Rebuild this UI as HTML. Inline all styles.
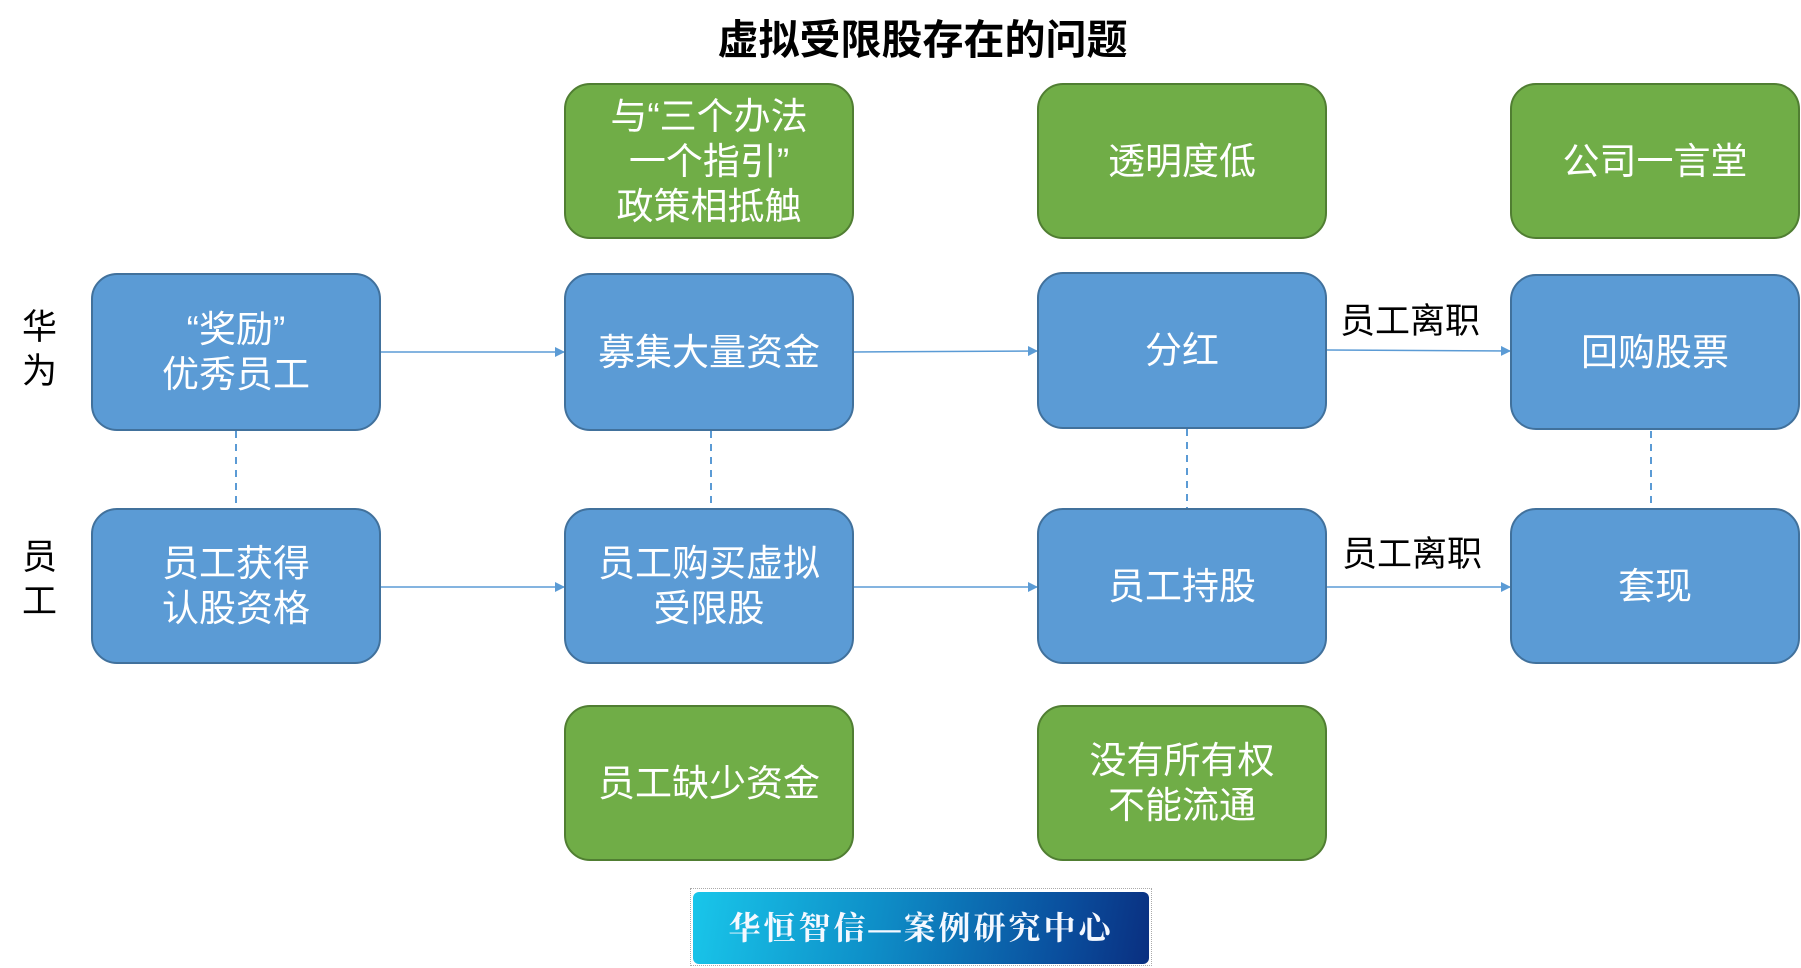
<!DOCTYPE html>
<html><head><meta charset="utf-8"><style>
body{margin:0;width:1801px;height:968px;background:#fff;position:relative;overflow:hidden;font-family:"Liberation Sans","Noto Sans CJK SC",sans-serif}
.b{position:absolute;box-sizing:border-box;border-radius:26px;display:flex;align-items:center;justify-content:center;text-align:center;color:#fff;font-size:37px;line-height:45px}
.bl{background:#5b9bd5;border:2px solid #41719c}
.g{background:#70ad47;border:2px solid #507e32}
.t{position:absolute;color:#000;font-size:35px;line-height:40px}
</style></head><body>
<div class="t" style="left:0;width:1845px;top:16px;text-align:center;font-weight:bold;font-size:41px;line-height:48px">虚拟受限股存在的问题</div>
<svg width="1801" height="968" style="position:absolute;left:0;top:0">
<defs><marker id="a" markerWidth="10" markerHeight="10" refX="9" refY="5" orient="auto" markerUnits="userSpaceOnUse"><path d="M0,0L10,5L0,10z" fill="#5b9bd5"/></marker></defs>
<g stroke="#5b9bd5" stroke-width="1.5" marker-end="url(#a)">
<line x1="380" y1="352" x2="564" y2="352"/><line x1="853" y1="352" x2="1037" y2="351"/><line x1="1327" y1="350" x2="1510" y2="351"/>
<line x1="380" y1="587" x2="564" y2="587"/><line x1="853" y1="587" x2="1037" y2="587"/><line x1="1327" y1="587" x2="1510" y2="587"/>
</g>
<g stroke="#5b9bd5" stroke-width="2" stroke-dasharray="7,6">
<line x1="236" y1="431" x2="236" y2="508"/><line x1="711" y1="431" x2="711" y2="508"/><line x1="1187" y1="429" x2="1187" y2="508"/><line x1="1651" y1="431" x2="1651" y2="508"/>
</g></svg>
<div class="t" style="left:22px;top:306px;width:40px;line-height:44px">华<br>为</div>
<div class="t" style="left:22px;top:536px;width:40px;line-height:44px">员<br>工</div>
<div class="t" style="left:1340px;top:302px">员工离职</div>
<div class="t" style="left:1342px;top:535px">员工离职</div>
<div class="b g" style="left:564px;top:83px;width:290px;height:156px">与“三个办法<br>一个指引”<br>政策相抵触</div>
<div class="b g" style="left:1037px;top:83px;width:290px;height:156px">透明度低</div>
<div class="b g" style="left:1510px;top:83px;width:290px;height:156px">公司一言堂</div>
<div class="b bl" style="left:91px;top:273px;width:290px;height:158px">“奖励”<br>优秀员工</div>
<div class="b bl" style="left:564px;top:273px;width:290px;height:158px">募集大量资金</div>
<div class="b bl" style="left:1037px;top:272px;width:290px;height:157px">分红</div>
<div class="b bl" style="left:1510px;top:274px;width:290px;height:156px">回购股票</div>
<div class="b bl" style="left:91px;top:508px;width:290px;height:156px">员工获得<br>认股资格</div>
<div class="b bl" style="left:564px;top:508px;width:290px;height:156px">员工购买虚拟<br>受限股</div>
<div class="b bl" style="left:1037px;top:508px;width:290px;height:156px">员工持股</div>
<div class="b bl" style="left:1510px;top:508px;width:290px;height:156px">套现</div>
<div class="b g" style="left:564px;top:705px;width:290px;height:156px">员工缺少资金</div>
<div class="b g" style="left:1037px;top:705px;width:290px;height:156px">没有所有权<br>不能流通</div>
<div style="position:absolute;left:690px;top:888px;width:462px;height:78px;border:1px dotted #aaa;box-sizing:border-box"></div>
<div class="b" style="left:693px;top:892px;width:456px;height:72px;border-radius:6px;background:linear-gradient(100deg,#19c6ea 0%,#0e8fc8 40%,#0a4f9e 80%,#0a2f80 100%);font-family:'Liberation Serif','Noto Serif CJK SC',serif;font-weight:bold;font-size:32px;letter-spacing:3px;color:#f4f8ff">华恒智信—案例研究中心</div>
</body></html>
